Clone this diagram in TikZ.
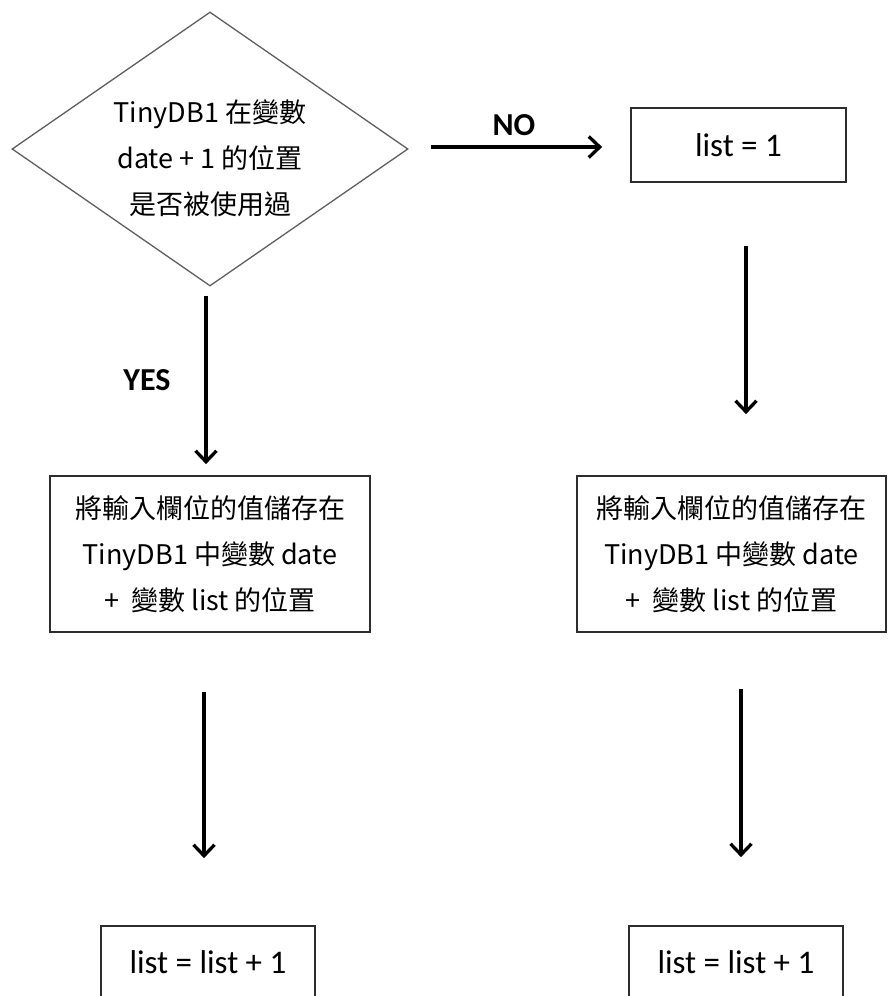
\documentclass[tikz,border=0pt]{standalone}
\usepackage{fontspec}
\setmainfont{Carlito}
\newfontfamily\cjk{Noto Sans CJK TC}
\usetikzlibrary{arrows.meta,shapes.geometric,calc}
\definecolor{boxgray}{RGB}{45,45,45}
\definecolor{diagray}{RGB}{95,95,95}
\begin{document}
\begin{tikzpicture}[x=1pt,y=-1pt,
  box/.style={draw=boxgray, line width=1.7pt, inner sep=0pt, text=black, align=center},
  cjktext/.style={font=\cjk\fontsize{27}{46}\selectfont},
  lattext/.style={font=\fontsize{33}{40}\selectfont},
  lbl/.style={font=\bfseries\fontsize{32}{36}\selectfont, text=black},
  arr/.style={line width=3.3pt, -{Straight Barb[length=11pt,width=21pt]}}]
\useasboundingbox (0,0) rectangle (887,996);
\fill[white] (0,0) rectangle (887,996);

% decision
\node[diamond, draw=diagray, line width=1.3pt, aspect=1.445,
      minimum width=396pt, minimum height=274pt, inner sep=0pt] (dia) at (210,149) {};
\node[cjktext, align=center, text=black, inner sep=0pt] (dtxt) at (210,158)
  {TinyDB1 在變數\\date + 1 的位置\\是否被使用過};

% boxes
\node[box, lattext, minimum width=215pt, minimum height=74pt] (b1) at (738.5,145) {list = 1};
\node[box, cjktext, minimum width=320pt, minimum height=156pt] (L) at (210,554)
  {將輸入欄位的值儲存在\\TinyDB1 中變數 date\\+\ \ 變數 list 的位置};
\node[box, cjktext, minimum width=309pt, minimum height=156pt] (R) at (731.5,554)
  {將輸入欄位的值儲存在\\TinyDB1 中變數 date\\+\ \ 變數 list 的位置};
\node[box, lattext, minimum width=214pt, minimum height=72pt] (bl) at (208,962) {list = list + 1};
\node[box, lattext, minimum width=214pt, minimum height=72pt] (br) at (736,962) {list = list + 1};

% connectors
\coordinate (s1) at ($(dia.east)+(22,-2)$);
\draw[arr] (s1) -- ($(s1 -| b1.west)+(-28,0)$);
\node[lbl] (no) at (514,125) {NO};

\coordinate (s2) at ($(dia.south)+(-4,9)$);
\draw[arr] (s2) -- ($(s2 |- L.north)+(0,-11)$);
\node[lbl] (yes) at (147,380) {YES};

\coordinate (s3) at ($(b1.south)+(7.5,63)$);
\draw[arr] (s3) -- ($(s3 |- R.north)+(0,-61)$);

\coordinate (s4) at ($(L.south)+(-6,59)$);
\draw[arr] (s4) -- ($(s4 |- bl.north)+(0,-67)$);

\coordinate (s5) at ($(R.south)+(9.5,56)$);
\draw[arr] (s5) -- ($(s5 |- br.north)+(0,-68)$);
\end{tikzpicture}
\end{document}
